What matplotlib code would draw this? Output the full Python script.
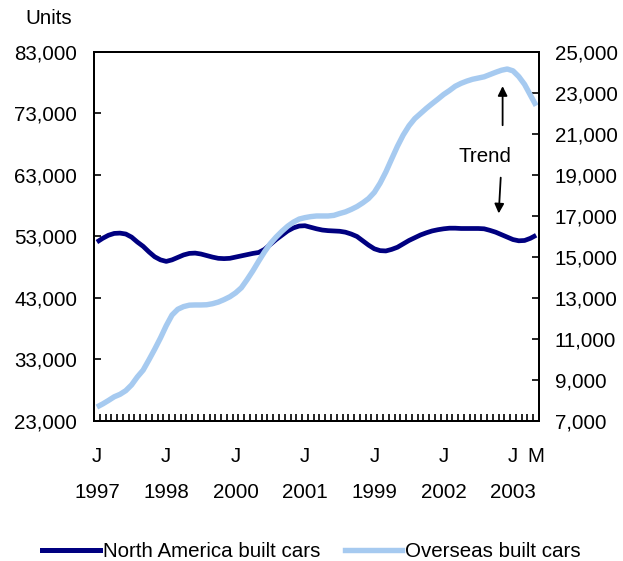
import numpy as np
import matplotlib
matplotlib.use('Agg')
import matplotlib.pyplot as plt
from matplotlib.lines import Line2D
from matplotlib.transforms import blended_transform_factory

plt.rcParams['font.family'] = ['Liberation Sans', 'DejaVu Sans']

# monthly trend, Jan 1997 .. May 2003
north_america = [
    52100, 52700, 53200, 53500, 53550, 53400, 52900, 52100, 51400, 50500, 49700, 49200,
    48950, 49200, 49600, 50000, 50250, 50300, 50150, 49900, 49650, 49450, 49400, 49450,
    49650, 49850, 50050, 50250, 50400, 50900, 51700, 52500, 53200, 53900, 54400, 54700,
    54750, 54500, 54250, 54050, 53950, 53900, 53850, 53700, 53400, 53000, 52300, 51600,
    51000, 50700, 50650, 50900, 51250, 51800, 52350, 52800, 53250, 53600, 53900, 54100,
    54250, 54350, 54350, 54300, 54300, 54300, 54300, 54250, 54000, 53700, 53300, 52900,
    52500, 52300, 52350, 52700, 53200,
]
overseas = [
    7680, 7830, 8000, 8180, 8300, 8480, 8760, 9150, 9480, 9980, 10500, 11050,
    11650, 12170, 12450, 12580, 12650, 12660, 12660, 12670, 12720, 12800, 12920, 13060,
    13250, 13500, 13900, 14330, 14800, 15250, 15650, 15970, 16250, 16500, 16700, 16850,
    16920, 16970, 17000, 17000, 17000, 17030, 17120, 17200, 17320, 17460, 17640, 17850,
    18150, 18600, 19150, 19780, 20400, 20950, 21400, 21750, 22000, 22250, 22480, 22700,
    22930, 23120, 23330, 23470, 23580, 23670, 23730, 23790, 23900, 24010, 24110, 24170,
    24080, 23800, 23420, 22900, 22380,
]
month_labels = ['J', 'J', 'J', 'J', 'J', 'J', 'J', 'M']
month_pos = [0, 12, 24, 36, 48, 60, 72, 76]
year_labels = ['1997', '1998', '2000', '2001', '1999', '2002', '2003']
left_ticks = list(range(23000, 83001, 10000))
right_ticks = list(range(7000, 25001, 2000))

navy = '#000080'
light = '#A6CAF0'
fs = 14.8

fig = plt.figure(figsize=(6.23, 5.61), dpi=100)
ax = fig.add_axes([0.1509, 0.2496, 0.7143, 0.6577])
ax2 = ax.twinx()

x = np.arange(len(north_america))
ax.plot(x, north_america, color=navy, lw=3.4, solid_capstyle='butt')
ax2.plot(x, overseas, color=light, lw=3.9, solid_capstyle='butt')

ax.set_xlim(-0.5, len(x) - 0.5)
ax.set_ylim(23000, 83000)
ax2.set_ylim(7000, 25000)

ax.set_yticks(left_ticks)
ax.set_yticklabels([f'{v:,}' for v in left_ticks], fontsize=fs)
ax2.set_yticks(right_ticks)
ax2.set_yticklabels([f'{v:,}' for v in right_ticks], fontsize=fs)
ax.tick_params(axis='y', direction='in', length=5, width=1.2, pad=12)
ax2.tick_params(axis='y', direction='in', length=5, width=1.2, pad=11.5)

ax.set_xticks(month_pos)
ax.set_xticklabels(month_labels, fontsize=fs)
ax.tick_params(axis='x', which='major', length=0, pad=19)
ax.set_xticks(np.arange(-0.5, len(x), 1.0), minor=True)
ax.tick_params(axis='x', which='minor', direction='in', length=5, width=1.2)

for sp in list(ax.spines.values()) + list(ax2.spines.values()):
    sp.set_linewidth(1.4)

trans = blended_transform_factory(ax.transData, ax.transAxes)
for pos, lab in zip(month_pos[:7], year_labels):
    ax.text(pos, -0.193, lab, transform=trans, ha='center', va='center', fontsize=fs)

fig.text(0.04, 0.967, 'Units', ha='left', va='center', fontsize=fs)

ax.annotate('', xy=(70.2, 0.915), xytext=(70.2, 0.794), xycoords=trans, textcoords=trans,
            arrowprops=dict(arrowstyle='-|>', color='black', lw=1.3, mutation_scale=14))
ax.annotate('', xy=(69.5, 0.555), xytext=(69.9, 0.667), xycoords=trans, textcoords=trans,
            arrowprops=dict(arrowstyle='-|>', color='black', lw=1.3, mutation_scale=14))
ax.text(67.1, 0.718, 'Trend', transform=trans, ha='center', va='center', fontsize=fs)

handles = [Line2D([], [], color=navy, lw=3.6), Line2D([], [], color=light, lw=3.9)]
fig.legend(handles, ['North America built cars', 'Overseas built cars'],
           loc='center', bbox_to_anchor=(0.5, 0.017), ncol=2, frameon=False,
           fontsize=fs, handlelength=2.8, handletextpad=0.15, columnspacing=1.2)

fig.savefig('out.png', dpi=100)
